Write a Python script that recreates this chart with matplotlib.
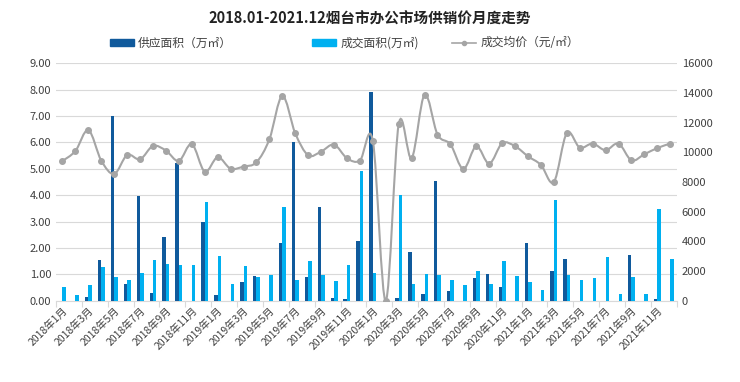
import matplotlib
matplotlib.use("Agg")
import matplotlib.pyplot as plt
import numpy as np
from matplotlib.path import Path
from matplotlib.patches import PathPatch, Patch
from matplotlib.lines import Line2D

plt.rcParams["font.family"] = ["Noto Sans CJK SC", "DejaVu Sans"]
plt.rcParams["axes.unicode_minus"] = False

# 月份:2018年1月 - 2021年12月
months = [f"{y}年{m}月" for y in range(2018, 2022) for m in range(1, 13)]

# 供应面积(万㎡)
supply = [0, 0, 0.15, 1.53, 7.00, 0.62, 3.97, 0.29, 2.41, 5.22, 0, 2.98,
          0.21, 0, 0.72, 0.94, 0, 2.20, 6.00, 0.88, 3.54, 0.09, 0.06, 2.25,
          7.90, 0, 0.10, 1.85, 0.27, 4.53, 0.38, 0, 0.87, 1.01, 0.53, 0,
          2.17, 0, 1.13, 1.58, 0, 0, 0, 0, 1.72, 0, 0.08, 0]
# 成交面积(万㎡)
deal = [0.53, 0.21, 0.59, 1.26, 0.88, 0.78, 1.05, 1.53, 1.39, 1.35, 1.35, 3.75,
        1.69, 0.62, 1.31, 0.88, 0.99, 3.54, 0.78, 1.50, 0.99, 0.73, 1.37, 4.93,
        1.05, 0, 4.02, 0.63, 1.01, 0.96, 0.78, 0.58, 1.13, 0.63, 1.50, 0.94,
        0.71, 0.40, 3.83, 0.99, 0.78, 0.86, 1.66, 0.27, 0.88, 0.24, 3.48, 1.58]
# 成交均价(元/㎡)
price = [9420, 10090, 11500, 9440, 8540, 9820, 9530, 10430, 10120, 9420, 10560, 8700,
         9670, 8900, 9040, 9330, 10880, 13800, 11280, 9800, 10050, 10520, 9600, 9440,
         10770, 0, 11890, 9600, 13890, 11200, 10540, 8880, 10410, 9240, 10610, 10410,
         9730, 9150, 8000, 11300, 10320, 10590, 10140, 10590, 9460, 9870, 10290, 10590]

DARK = "#105A9C"
LIGHT = "#00B0F0"
GREY = "#A5A5A5"


def smooth_path(xs, ys, t=1 / 6):
    """类似 Excel 的平滑折线:Catmull-Rom 转三次贝塞尔。"""
    pts = np.column_stack([xs, ys]).astype(float)
    verts = [pts[0]]
    codes = [Path.MOVETO]
    n = len(pts)
    for i in range(n - 1):
        p0 = pts[max(i - 1, 0)]
        p1 = pts[i]
        p2 = pts[i + 1]
        p3 = pts[min(i + 2, n - 1)]
        verts += [p1 + (p2 - p0) * t, p2 - (p3 - p1) * t, p2]
        codes += [Path.CURVE4] * 3
    return Path(verts, codes)


fig = plt.figure(figsize=(7.4, 3.82), dpi=100)
ax = fig.add_axes([0.0757, 0.2128, 0.8388, 0.6215])
ax2 = ax.twinx()

x = np.arange(len(months))
w = 0.27
ax.bar(x - w / 2, supply, width=w, color=DARK, zorder=3)
ax.bar(x + w / 2, deal, width=w, color=LIGHT, zorder=3)

ax.set_xlim(-0.5, len(months) - 0.5)
ax.set_ylim(0, 9)
ax.set_yticks(np.arange(0, 10, 1))
ax.set_yticklabels([f"{v:.2f}" for v in range(10)])
ax.yaxis.grid(True, color="#D9D9D9", lw=0.8, zorder=0)
ax.set_axisbelow(True)

# 刻度线在类别边界,每 2 个月一个标签
ax.set_xticks(np.arange(-0.5, len(months), 2))
ax.set_xticklabels([])
ax.set_xticks(np.arange(0, len(months), 2), minor=True)
ax.set_xticklabels(months[::2], minor=True, rotation=45, ha="right",
                   rotation_mode="anchor", fontsize=7.5, color="#404040")
ax.tick_params(axis="x", which="major", length=4, color="#D9D9D9")
ax.tick_params(axis="x", which="minor", length=0, pad=3)
ax.tick_params(axis="y", length=0, labelsize=8, colors="#404040")

ax2.add_patch(PathPatch(smooth_path(x, price), facecolor="none",
                        edgecolor=GREY, lw=1.5, zorder=4))
ax2.plot(x, price, "o", color=GREY, ms=4, zorder=5)
ax2.set_ylim(0, 16000)
ax2.set_yticks(np.arange(0, 16001, 2000))
ax2.tick_params(axis="y", length=0, labelsize=8, colors="#404040")

for a in (ax, ax2):
    for s in ("top", "right", "left"):
        a.spines[s].set_visible(False)
    a.spines["bottom"].set_color("#D9D9D9")
ax2.spines["bottom"].set_visible(False)

fig.text(0.5, 0.952, "2018.01-2021.12烟台市办公市场供销价月度走势",
         ha="center", va="center", fontsize=10.5, fontweight="bold", color="#222222")

leg_y = 1 - 43 / 382
items = [
    (Patch(color=DARK), "供应面积（万㎡）", 104 / 740),
    (Patch(color=LIGHT), "成交面积(万㎡)", 306 / 740),
    (Line2D([], [], color=GREY, marker="o", ms=3, lw=1.2), "成交均价（元/㎡）", 446 / 740),
]
for h, lab, lx in items:
    fig.legend([h], [lab], loc="center left", bbox_to_anchor=(lx, leg_y),
               frameon=False, fontsize=8.5, handlelength=2.0, handleheight=0.6,
               handletextpad=0.4, borderpad=0, labelcolor="#404040")

fig.savefig("out.png", dpi=100)
